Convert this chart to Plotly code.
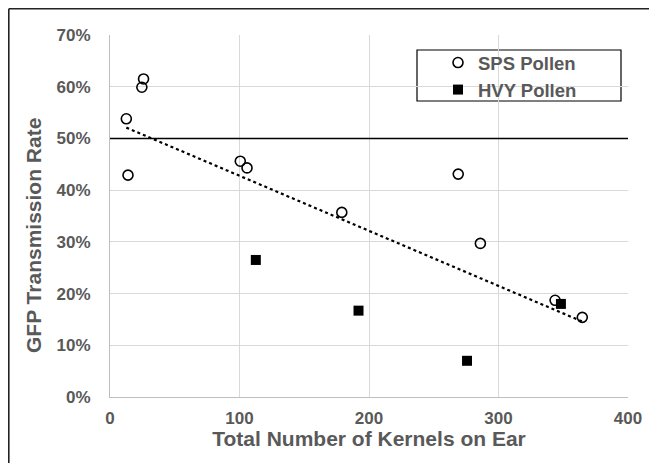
import numpy as np
import plotly.graph_objects as go

# SPS pollen (open circles)
sps_kernels = [12.6, 13.9, 24.6, 25.9, 100.6, 105.8, 179, 268.9, 286, 343.7, 364.7]
sps_rate = [0.538, 0.429, 0.599, 0.615, 0.456, 0.443, 0.357, 0.431, 0.297, 0.187, 0.154]
# HVY pollen (filled squares)
hvy_kernels = [112.6, 191.9, 275.7, 348.2]
hvy_rate = [0.265, 0.167, 0.070, 0.180]

x_ticks = [0, 100, 200, 300, 400]
y_ticks = [0, 0.1, 0.2, 0.3, 0.4, 0.5, 0.6, 0.7]
y_tick_labels = ["0%", "10%", "20%", "30%", "40%", "50%", "60%", "70%"]
reference_rate = 0.5

# linear trend over all points
all_x = np.array(sps_kernels + hvy_kernels)
all_y = np.array(sps_rate + hvy_rate)
slope, intercept = np.polyfit(all_x, all_y, 1)
tx = np.array([all_x.min(), all_x.max()])
ty = slope * tx + intercept

GRAY = "#595959"
FONT = "Liberation Sans"

# page is offset by 8px body margin; plot area at page x 110..628, y 35..397
L, T, PW, PH = 102, 27, 518, 362


def px(x):  # figure px -> paper x
    return (x - L) / PW


def py(y):  # figure px -> paper y
    return (T + PH - y) / PH


fig = go.Figure()
fig.add_trace(go.Scatter(
    x=tx, y=ty, mode="lines", showlegend=False, hoverinfo="skip",
    line=dict(color="black", width=2.2, dash="dot"),
))
fig.add_trace(go.Scatter(
    x=sps_kernels, y=sps_rate, mode="markers", name="SPS Pollen",
    legendgroup="a",
    marker=dict(symbol="circle-open", size=10, color="black", line=dict(width=1.6, color="black")),
))
fig.add_trace(go.Scatter(
    x=hvy_kernels, y=hvy_rate, mode="markers", name="HVY Pollen",
    legendgroup="b",
    marker=dict(symbol="square", size=10, color="black"),
))

# 50% reference line
fig.add_shape(type="line", xref="paper", yref="y", x0=0, x1=1, y0=reference_rate, y1=reference_rate,
              line=dict(color="black", width=1.6))

# legend box (page coords minus 8)
fig.add_shape(type="rect", xref="paper", yref="paper",
              x0=px(417 - 8), x1=px(621 - 8),
              y0=py(101 - 8), y1=py(50 - 8),
              line=dict(color="black", width=1.2), fillcolor="white", layer="below")

# outer frame (left and top)
fig.add_shape(type="line", xref="paper", yref="paper", x0=px(0.8), x1=px(0.8), y0=py(0.8), y1=py(470),
              line=dict(color="#222222", width=1.6))
fig.add_shape(type="line", xref="paper", yref="paper", x0=px(0.8), x1=px(670), y0=py(0.8), y1=py(0.8),
              line=dict(color="#222222", width=1.6))

# y-axis title as annotation (centred lower than the plot centre, as in the original)
fig.add_annotation(
    text="GFP Transmission Rate", textangle=-90, showarrow=False,
    xref="paper", yref="paper", x=px(33 - 8), y=py(236 - 8), xanchor="center", yanchor="middle",
    font=dict(family=FONT, size=21, color=GRAY, weight="bold"),
)

fig.update_layout(
    width=657, height=463,
    margin=dict(l=L, r=657 - L - PW, t=T, b=463 - T - PH),
    paper_bgcolor="white", plot_bgcolor="white",
    font=dict(family=FONT, color=GRAY, size=17, weight="bold"),
    legend=dict(
        x=px(438 - 8), y=py(44 - 8), xanchor="left", yanchor="top",
        bgcolor="rgba(0,0,0,0)", borderwidth=0,
        font=dict(family=FONT, size=18.5, color=GRAY, weight="bold"),
        tracegroupgap=0, itemwidth=30,
    ),
    showlegend=True,
)
fig.update_xaxes(
    range=[0, 400], tickvals=x_ticks, ticktext=[str(v) for v in x_ticks],
    showgrid=True, gridcolor="#d9d9d9", gridwidth=1.2,
    showline=True, linecolor="#bfbfbf", linewidth=1.2, zeroline=False,
    ticks="", ticklabelstandoff=5,
    tickfont=dict(family=FONT, size=17, color=GRAY, weight="bold"),
    title=dict(text="Total Number of Kernels on Ear", standoff=3,
               font=dict(family=FONT, size=21, color=GRAY, weight="bold")),
)
fig.update_yaxes(
    range=[0, 0.7], tickvals=y_ticks, ticktext=y_tick_labels,
    showgrid=True, gridcolor="#d9d9d9", gridwidth=1.2,
    showline=True, linecolor="#bfbfbf", linewidth=1.2, zeroline=False,
    ticks="", ticklabelstandoff=15,
    tickfont=dict(family=FONT, size=17, color=GRAY, weight="bold"),
)

fig.write_html("out.html")
